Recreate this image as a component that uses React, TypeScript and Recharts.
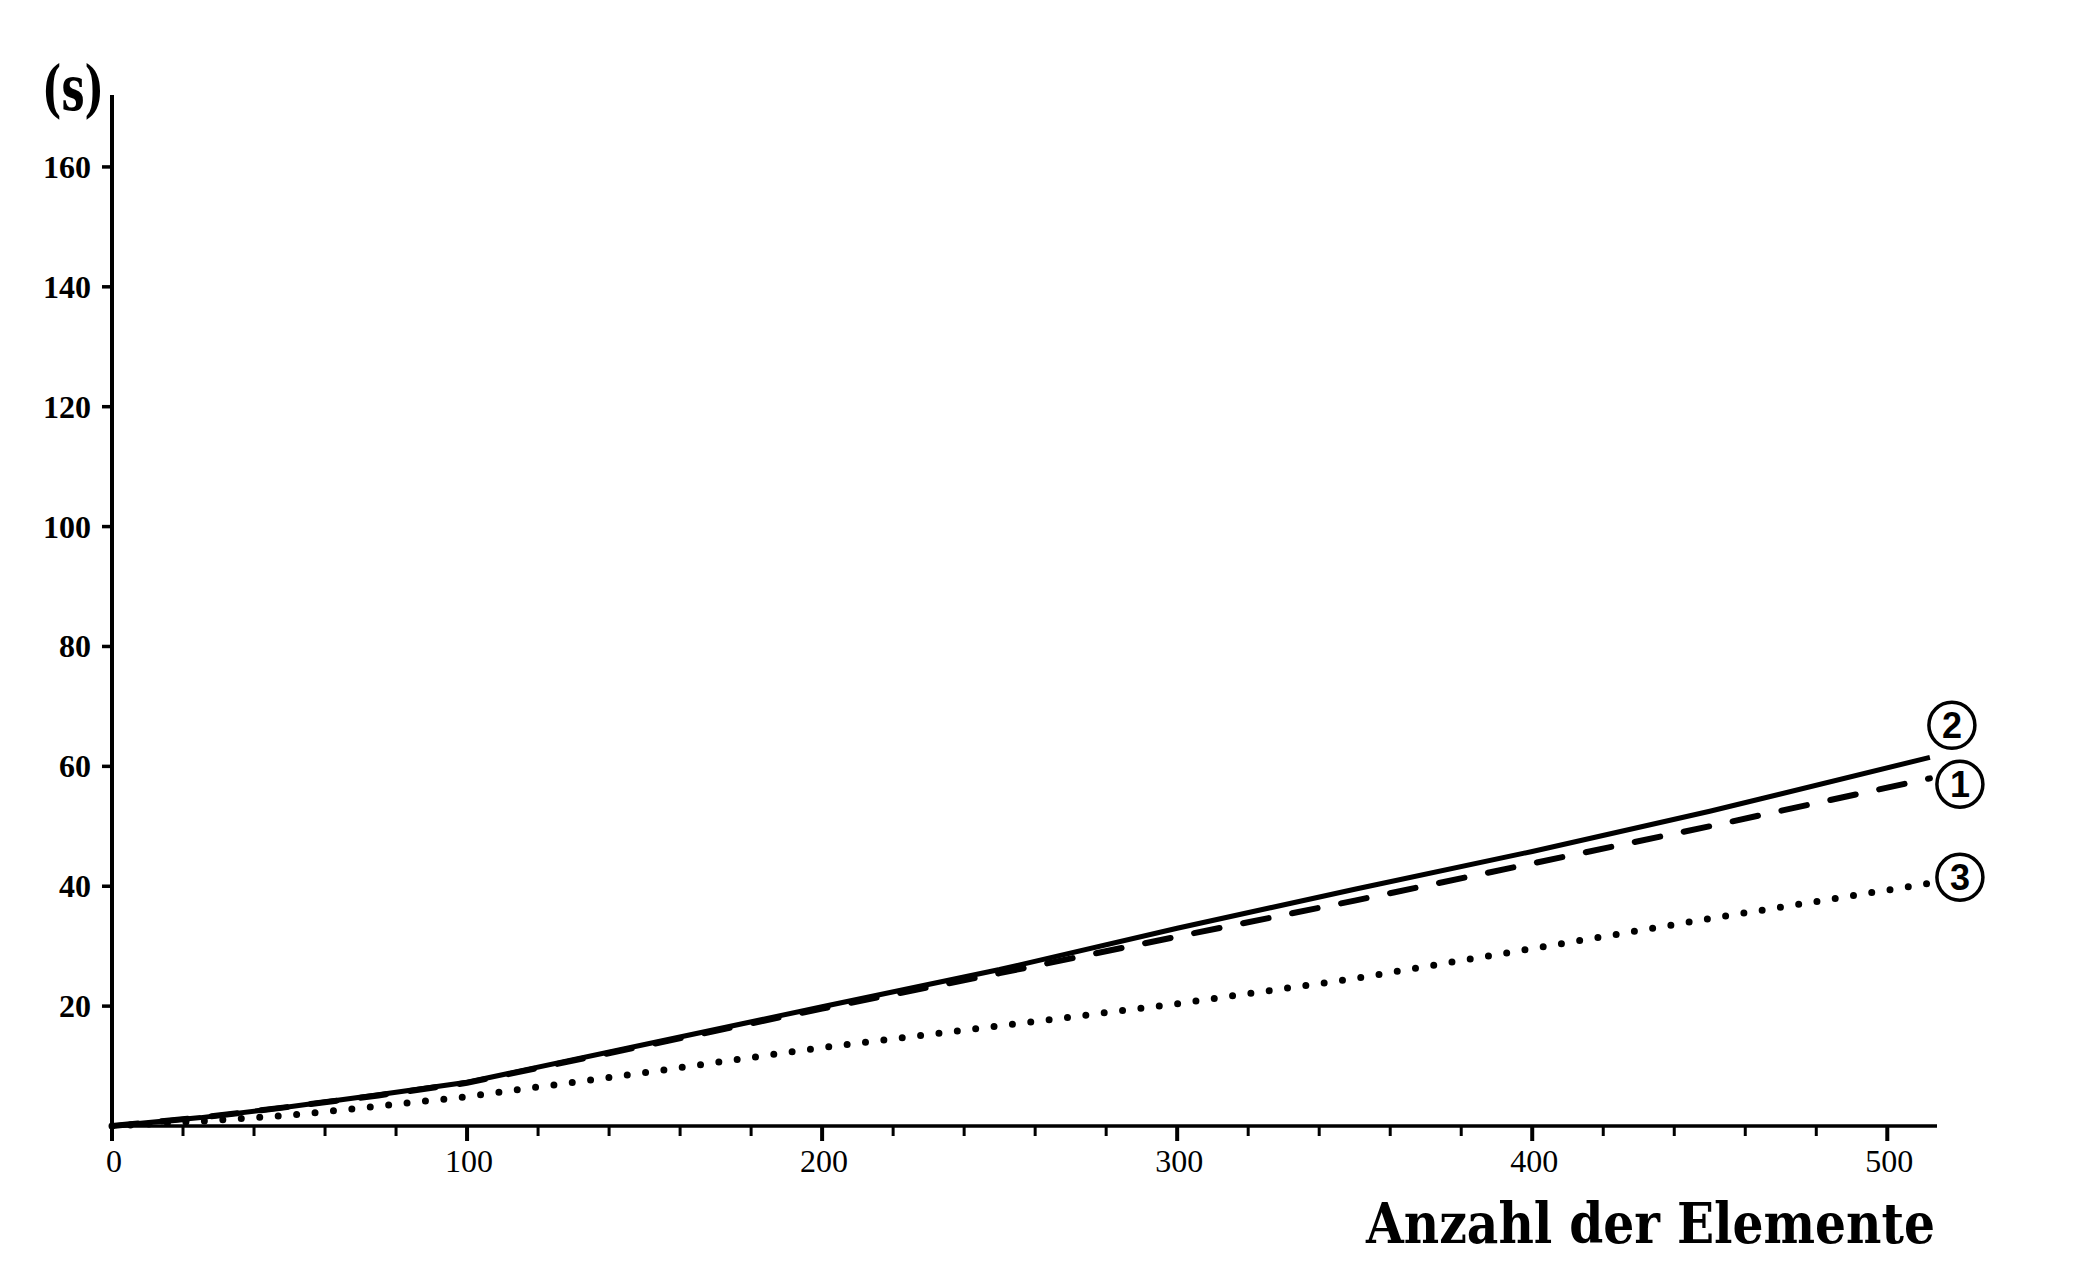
import React from 'react';
import { LineChart, Line, XAxis, YAxis } from 'recharts';

// x values: number of elements
const elementCounts = [0, 25, 50, 75, 100, 150, 200, 250, 300, 350, 400, 450, 512];
// curve ① (dashed)
const seriesOne = [0, 1.4, 3.2, 5.1, 7.2, 13.4, 19.6, 25.5, 31.6, 37.6, 43.8, 50.0, 58.0];
// curve ② (solid)
const seriesTwo = [0, 1.4, 3.2, 5.2, 7.3, 13.6, 19.9, 26.1, 33.0, 39.5, 45.8, 52.5, 61.5];
// curve ③ (dotted)
const seriesThree = [0, 0.8, 1.8, 3.3, 4.9, 8.9, 13.1, 16.7, 20.4, 24.6, 29.6, 34.6, 40.5];

const xTicks = [0, 20, 40, 60, 80, 100, 120, 140, 160, 180, 200, 220, 240, 260, 280, 300, 320, 340, 360, 380, 400, 420, 440, 460, 480, 500];
const xLabelled = [0, 100, 200, 300, 400, 500];
const yTicks = [20, 40, 60, 80, 100, 120, 140, 160];

const yUnit = '(s)';
const xTitle = 'Anzahl der Elemente';
const curveNames = ['1', '2', '3'];

const data = elementCounts.map((n, i) => ({
  n,
  s1: seriesOne[i],
  s2: seriesTwo[i],
  s3: seriesThree[i],
}));

const serif = '"Liberation Serif", "DejaVu Serif", serif';
const slab = '"DejaVu Serif", "Liberation Serif", serif';

const XTick = (props: any) => {
  const { x, y, payload } = props;
  const v = payload.value;
  const major = xLabelled.includes(v);
  return (
    <g>
      <line x1={x} y1={y} x2={x} y2={y + (major ? 15 : 10)} stroke="#000" strokeWidth={major ? 4 : 3} />
      {major && (
        <text x={x + 2} y={y + 46} textAnchor="middle" fontFamily={serif} fontSize={32} fill="#000">
          {v}
        </text>
      )}
    </g>
  );
};

const YTick = (props: any) => {
  const { x, y, payload } = props;
  return (
    <g>
      <line x1={x - 10} y1={y} x2={x} y2={y} stroke="#000" strokeWidth={3.5} />
      <text x={x - 21} y={y + 11} textAnchor="end" fontFamily={serif} fontWeight="bold" fontSize={32} fill="#000">
        {payload.value}
      </text>
    </g>
  );
};

const makeEndLabel = (name: string, dx: number, dy: number) => (props: any) => {
  const { x, y, index } = props;
  if (index !== elementCounts.length - 1 || x == null || y == null) return null;
  const cx = x + dx;
  const cy = y + dy;
  return (
    <g>
      <circle cx={cx} cy={cy} r={23} fill="#fff" stroke="#000" strokeWidth={3.5} />
      <text x={cx} y={cy + 13} textAnchor="middle" fontFamily='"Liberation Sans", Arial, sans-serif' fontWeight="bold" fontSize={36} fill="#000">
        {name}
      </text>
    </g>
  );
};

const UnitLabel = () => (
  <text x={42} y={110} fontFamily={slab} fontWeight="bold" fontSize={62} fill="#000" textLength={62} lengthAdjust="spacingAndGlyphs">
    {yUnit}
  </text>
);

const TitleLabel = () => (
  <text x={1366} y={1243} fontFamily={slab} fontWeight="bold" fontSize={56} fill="#000" textLength={569} lengthAdjust="spacingAndGlyphs">
    {xTitle}
  </text>
);

export default function App() {
  return (
    <div style={{ position: 'absolute', left: 0, top: 0, width: 2092, height: 1269, background: '#fff' }}>
      <LineChart width={2092} height={1269} data={data} margin={{ top: 95, right: 155, bottom: 0, left: 0 }}>
        <XAxis
          dataKey="n"
          type="number"
          domain={[0, 514]}
          ticks={xTicks}
          interval={0}
          height={143}
          tickSize={0}
          tickMargin={0}
          tickLine={false}
          tick={<XTick />}
          axisLine={{ stroke: '#000', strokeWidth: 3.5 }}
          label={<TitleLabel />}
        />
        <YAxis
          type="number"
          domain={[0, 172]}
          ticks={yTicks}
          interval={0}
          width={112}
          tickSize={0}
          tickMargin={0}
          tickLine={false}
          tick={<YTick />}
          axisLine={{ stroke: '#000', strokeWidth: 4 }}
          label={<UnitLabel />}
        />
        <Line
          dataKey="s3"
          type="linear"
          stroke="#000"
          strokeWidth={7}
          strokeDasharray="0 18.5"
          strokeLinecap="round"
          dot={false}
          activeDot={false}
          isAnimationActive={false}
          label={makeEndLabel(curveNames[2], 30, -6)}
        />
        <Line
          dataKey="s1"
          type="linear"
          stroke="#000"
          strokeWidth={6}
          strokeDasharray="26 24"
          strokeLinecap="round"
          dot={false}
          activeDot={false}
          isAnimationActive={false}
          label={makeEndLabel(curveNames[0], 30, 6)}
        />
        <Line
          dataKey="s2"
          type="linear"
          stroke="#000"
          strokeWidth={5}
          dot={false}
          activeDot={false}
          isAnimationActive={false}
          label={makeEndLabel(curveNames[1], 22, -32)}
        />
      </LineChart>
    </div>
  );
}
